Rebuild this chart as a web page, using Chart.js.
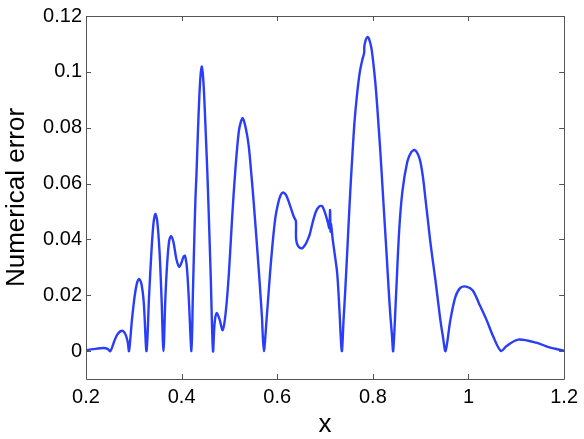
<!DOCTYPE html>
<html>
<head>
<meta charset="utf-8">
<script src="https://cdn.jsdelivr.net/npm/chart.js@4/dist/chart.umd.min.js"></script>
<style>
  html, body { margin: 0; padding: 0; background: #fff; }
  #wrap { width: 584px; height: 439px; }
</style>
</head>
<body>
<div id="wrap"><canvas id="errChart" width="584" height="439"></canvas></div>
<script>
// values
const xValues = [
  0.200, 0.215, 0.237, 0.245, 0.251,
  0.258, 0.265, 0.275, 0.282, 0.287, 0.290,
  0.296, 0.302, 0.307, 0.311, 0.316, 0.321, 0.3266,
  0.332, 0.337, 0.341, 0.345, 0.349, 0.354, 0.358, 0.362,
  0.366, 0.370, 0.374, 0.378, 0.383, 0.389, 0.395, 0.400, 0.404, 0.407, 0.411, 0.415, 0.4206,
  0.4235, 0.4265, 0.4290, 0.4310, 0.4340, 0.4370, 0.4395, 0.4420, 0.4445, 0.4470, 0.4500, 0.4540, 0.4575, 0.4610, 0.4656,
  0.469, 0.4732, 0.479, 0.486, 0.492, 0.4988, 0.5056, 0.5126, 0.5195, 0.524, 0.528,
  0.534, 0.5402, 0.5455, 0.5506, 0.556, 0.561, 0.565, 0.568, 0.572,
  0.578, 0.585, 0.590, 0.596, 0.602, 0.607, 0.612, 0.618, 0.623, 0.625, 0.630, 0.635, 0.639,
  0.6395, 0.644, 0.652, 0.660, 0.664, 0.668, 0.674, 0.681, 0.688, 0.694, 0.700, 0.706,
  0.709, 0.7105, 0.7115, 0.7125, 0.716, 0.720, 0.7255, 0.730, 0.735,
  0.7388, 0.7426, 0.7478, 0.7531, 0.7574, 0.7616, 0.7670, 0.7726, 0.7775, 0.7818, 0.7822, 0.7855, 0.7890,
  0.792, 0.797, 0.803, 0.807, 0.8114, 0.816, 0.8203, 0.8245, 0.8288, 0.8328, 0.8365, 0.8398, 0.8425,
  0.8483, 0.855, 0.8618, 0.872, 0.880, 0.8874, 0.894, 0.8994, 0.905, 0.9098, 0.915, 0.920,
  0.9255, 0.931, 0.9362, 0.9413, 0.9465, 0.952,
  0.962, 0.9725, 0.983, 0.9952, 1.009, 1.0224, 1.0382, 1.052, 1.068,
  1.0797, 1.104, 1.142, 1.1695, 1.200
];
const errValues = [
  0.0003, 0.0007, 0.0011, 0.0008, 0.0000,
  0.0030, 0.0058, 0.0073, 0.0062, 0.0035, 0.0000,
  0.0110, 0.0200, 0.0246, 0.0258, 0.0240, 0.0170, 0.0000,
  0.0200, 0.0360, 0.0455, 0.0491, 0.0465, 0.0350, 0.0190, 0.0000,
  0.0190, 0.0320, 0.0395, 0.0412, 0.0390, 0.0330, 0.0302, 0.0318, 0.0338, 0.0341, 0.0300, 0.0190, 0.0000,
  0.0200, 0.0400, 0.0550, 0.0630, 0.0780, 0.0910, 0.0985, 0.1019, 0.0990, 0.0920, 0.0800, 0.0630, 0.0450, 0.0260, 0.0000,
  0.0100, 0.0136, 0.0115, 0.0075, 0.0135, 0.0276, 0.0477, 0.0654, 0.0785, 0.0822, 0.0834,
  0.0800, 0.0737, 0.0640, 0.0536, 0.0415, 0.0299, 0.0200, 0.0122, 0.0000,
  0.0120, 0.0280, 0.0380, 0.0477, 0.0530, 0.0558, 0.0568, 0.0560, 0.0540, 0.0530, 0.0505, 0.0480, 0.0465,
  0.0400, 0.0375, 0.0368, 0.0385, 0.0400, 0.0418, 0.0460, 0.0500, 0.0518, 0.0519, 0.0495, 0.0460,
  0.0440, 0.0505, 0.0428, 0.0455, 0.0400, 0.0350, 0.0277, 0.0150, 0.0000,
  0.0114, 0.0228, 0.0405, 0.0583, 0.0708, 0.0820, 0.0920, 0.0998, 0.1040, 0.1068, 0.1092, 0.1116, 0.1125,
  0.1118, 0.1085, 0.1000, 0.0925, 0.0820, 0.0705, 0.0583, 0.0465, 0.0345, 0.0228, 0.0130, 0.0060, 0.0000,
  0.0193, 0.0430, 0.0572, 0.0678, 0.0712, 0.0720, 0.0706, 0.0678, 0.0620, 0.0548, 0.0470, 0.0394,
  0.0322, 0.0252, 0.0180, 0.0110, 0.0052, 0.0000,
  0.0110, 0.0193, 0.0226, 0.0231, 0.0217, 0.0169, 0.0110, 0.0051, 0.0000,
  0.0018, 0.0041, 0.0030, 0.0013, 0.0001
];
const xTicks = [0.2, 0.4, 0.6, 0.8, 1.0, 1.2];
const yTicks = [0, 0.02, 0.04, 0.06, 0.08, 0.1, 0.12];

const FONT = "'Liberation Sans', Arial, Helvetica, sans-serif";

const points = xValues.map((x, i) => ({ x: x, y: errValues[i] }));

// MATLAB-style box with inward tick marks
const boxTicks = {
  id: 'boxTicks',
  afterDraw(chart) {
    const { ctx, chartArea: a, scales } = chart;
    ctx.save();
    ctx.strokeStyle = '#555';
    ctx.lineWidth = 1;
    ctx.beginPath();
    ctx.rect(Math.round(a.left) + 0.5, Math.round(a.top) + 0.5,
             Math.round(a.right - a.left), Math.round(a.bottom - a.top));
    ctx.stroke();
    ctx.beginPath();
    const len = 5;
    xTicks.forEach(v => {
      const px = Math.round(scales.x.getPixelForValue(v)) + 0.5;
      ctx.moveTo(px, a.bottom); ctx.lineTo(px, a.bottom - len);
      ctx.moveTo(px, a.top); ctx.lineTo(px, a.top + len);
    });
    yTicks.forEach(v => {
      const py = Math.round(scales.y.getPixelForValue(v)) + 0.5;
      ctx.moveTo(a.left, py); ctx.lineTo(a.left + len, py);
      ctx.moveTo(a.right, py); ctx.lineTo(a.right - len, py);
    });
    ctx.stroke();
    ctx.restore();
  }
};

const ctx = document.getElementById('errChart').getContext('2d');

new Chart(ctx, {
  type: 'line',
  data: {
    datasets: [{
      data: points,
      borderColor: '#2a3df8',
      borderWidth: 2.4,
      pointRadius: 0,
      tension: 0.3,
      fill: false
    }]
  },
  options: {
    responsive: false,
    animation: false,
    layout: { padding: { top: 13, right: 16, left: 0, bottom: 0 } },
    plugins: { legend: { display: false }, tooltip: { enabled: false } },
    scales: {
      x: {
        type: 'linear',
        min: 0.2,
        max: 1.2,
        afterBuildTicks: s => { s.ticks = xTicks.map(v => ({ value: v })); },
        afterFit: s => { s.height = 60; },
        grid: { display: false, drawTicks: false },
        border: { display: false },
        ticks: {
          color: '#000',
          padding: 6,
          font: { family: FONT, size: 20 },
          callback: v => String(Number(v.toFixed(2)))
        },
        title: {
          display: true,
          text: 'x',
          color: '#000',
          font: { family: FONT, size: 26, lineHeight: 1 },
          padding: { top: 0, bottom: 1 }
        }
      },
      y: {
        min: -0.01,
        max: 0.12,
        afterBuildTicks: s => { s.ticks = yTicks.map(v => ({ value: v })); },
        afterFit: s => { s.width = 86; },
        grid: { display: false, drawTicks: false },
        border: { display: false },
        ticks: {
          color: '#000',
          padding: 4,
          font: { family: FONT, size: 20 },
          callback: v => String(Number(v.toFixed(2)))
        },
        title: {
          display: true,
          text: 'Numerical error',
          color: '#000',
          font: { family: FONT, size: 26, lineHeight: 1 },
          padding: { top: 4, bottom: 0 }
        }
      }
    }
  },
  plugins: [boxTicks]
});
</script>
</body>
</html>
